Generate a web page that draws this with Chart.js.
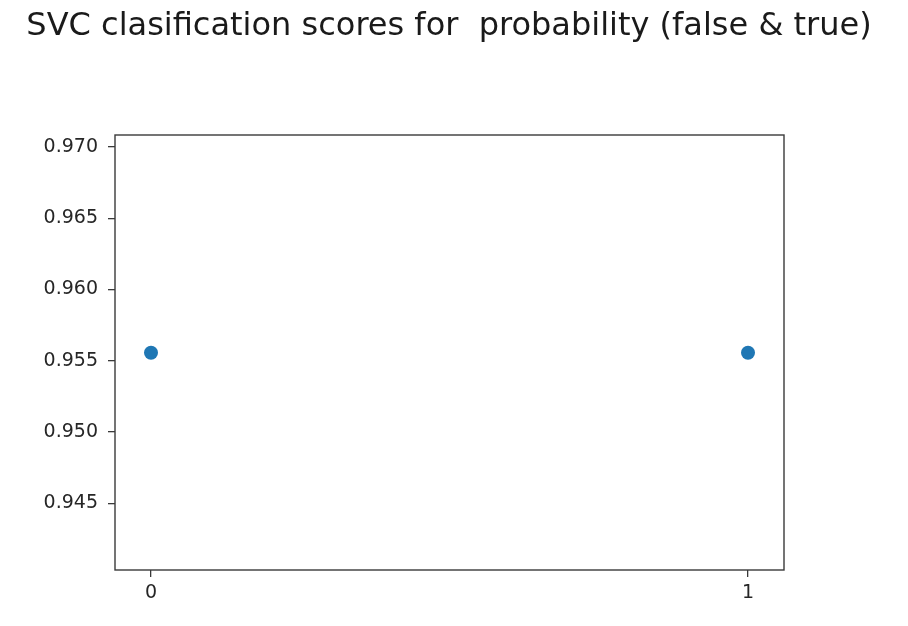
<!DOCTYPE html>
<html>
<head>
<meta charset="utf-8">
<script src="https://cdn.jsdelivr.net/npm/chart.js@4/dist/chart.umd.min.js"></script>
<style>
  html, body { margin: 0; padding: 0; background: #ffffff; }
  #wrap { width: 908px; height: 626px; position: relative; }
</style>
</head>
<body>
<div id="wrap"><canvas id="c" width="908" height="626"></canvas></div>
<script>
const titleText = "SVC clasification scores for  probability (false & true)";
const xValues = [0, 1];
const scores = [0.95556, 0.95556];
const xTicks = [0, 1];
const yTicks = [0.945, 0.950, 0.955, 0.960, 0.965, 0.970];

const FONT = "'DejaVu Sans', sans-serif";
const points = xValues.map((x, i) => ({ x: x, y: scores[i] }));

const framePlugin = {
  id: 'frame',
  afterDatasetsDraw(chart) {
    const a = chart.chartArea, ctx = chart.ctx;
    ctx.save();
    ctx.strokeStyle = '#3a3a3a';
    ctx.lineWidth = 1.4;
    ctx.strokeRect(a.left, a.top, a.right - a.left, a.bottom - a.top);
    ctx.restore();
  }
};
const titlePlugin = {
  id: 'mytitle',
  afterDraw(chart) {
    const ctx = chart.ctx;
    ctx.save();
    ctx.fillStyle = '#1a1a1a';
    ctx.font = "32px " + FONT;
    ctx.textAlign = 'center';
    ctx.textBaseline = 'alphabetic';
    ctx.fillText(titleText, 449, 34.5);
    ctx.restore();
  }
};

new Chart(document.getElementById('c'), {
  type: 'scatter',
  data: {
    datasets: [{
      data: points,
      backgroundColor: '#1f77b4',
      borderColor: '#1f77b4',
      borderWidth: 0,
      pointRadius: 7,
      pointHoverRadius: 7
    }]
  },
  options: {
    responsive: false,
    animation: false,
    devicePixelRatio: 1,
    layout: { padding: { left: 0, right: 124, top: 135, bottom: 0 } },
    plugins: { legend: { display: false }, title: { display: false }, tooltip: { enabled: false } },
    scales: {
      x: {
        type: 'linear',
        min: -0.0603,
        max: 1.0603,
        afterBuildTicks(s) { s.ticks = xTicks.map(v => ({ value: v })); },
        afterFit(s) { s.height = 56; },
        ticks: {
          color: '#262626',
          font: { family: FONT, size: 19 },
          padding: 5,
          maxRotation: 0,
          callback: v => String(v)
        },
        grid: { drawOnChartArea: false, drawTicks: true, tickLength: 7, color: '#3a3a3a', lineWidth: 1.3 },
        border: { display: false }
      },
      y: {
        type: 'linear',
        min: 0.94032,
        max: 0.97084,
        afterBuildTicks(s) { s.ticks = yTicks.map(v => ({ value: v })); },
        afterFit(s) { s.width = 115; },
        ticks: {
          color: '#262626',
          font: { family: FONT, size: 19 },
          padding: 10,
          callback: v => Number(v).toFixed(3)
        },
        grid: { drawOnChartArea: false, drawTicks: true, tickLength: 7, color: '#3a3a3a', lineWidth: 1.3 },
        border: { display: false }
      }
    }
  },
  plugins: [framePlugin, titlePlugin]
});
</script>
</body>
</html>
